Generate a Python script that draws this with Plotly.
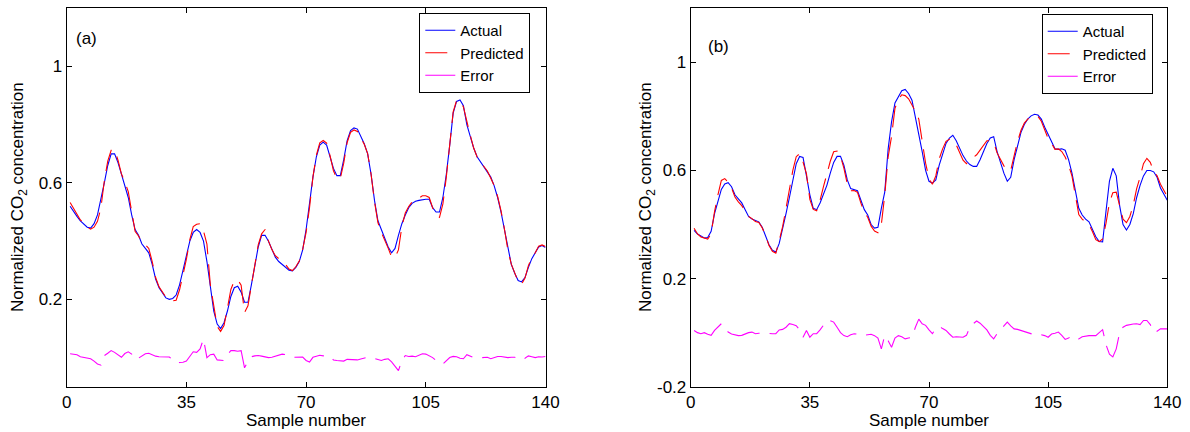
import plotly.graph_objects as go

samples = list(range(1, 141))

# ---------------- Panel (a) ----------------
actual_a = [0.52, 0.50, 0.485, 0.47, 0.46, 0.448, 0.445, 0.46, 0.49, 0.54,
            0.60, 0.66, 0.70, 0.70, 0.67, 0.63, 0.59, 0.55, 0.49, 0.44,
            0.42, 0.39, 0.375, 0.36, 0.32, 0.27, 0.24, 0.22, 0.205, 0.20,
            0.203, 0.215, 0.25, 0.30, 0.35, 0.40, 0.43, 0.44, 0.43, 0.40,
            0.33, 0.24, 0.16, 0.115, 0.10, 0.12, 0.16, 0.21, 0.24, 0.245,
            0.225, 0.19, 0.19, 0.25, 0.32, 0.38, 0.42, 0.42, 0.40, 0.37,
            0.345, 0.33, 0.32, 0.31, 0.30, 0.298, 0.31, 0.33, 0.37, 0.44,
            0.53, 0.62, 0.69, 0.73, 0.74, 0.73, 0.69, 0.65, 0.625, 0.625,
            0.68, 0.745, 0.78, 0.789, 0.785, 0.76, 0.735, 0.70, 0.63, 0.54,
            0.47, 0.44, 0.41, 0.38, 0.36, 0.375, 0.42, 0.46, 0.49, 0.515,
            0.53, 0.537, 0.54, 0.543, 0.544, 0.544, 0.515, 0.50, 0.50, 0.55,
            0.63, 0.73, 0.84, 0.88, 0.885, 0.865, 0.80, 0.76, 0.72, 0.69,
            0.672, 0.655, 0.64, 0.62, 0.59, 0.55, 0.50, 0.44, 0.37, 0.32,
            0.29, 0.265, 0.26, 0.275, 0.31, 0.34, 0.36, 0.38, 0.385, 0.378]

predicted_a = [0.533, 0.512, 0.495, 0.473, 0.461, 0.448, 0.441, 0.448, 0.468, 0.514,
               0.607, 0.675, 0.712, 0.714, 0.678, 0.631, 0.604, 0.57, 0.502, 0.434,
               0.418, 0.396, 0.388, 0.375, 0.33, 0.275, 0.243, 0.223, 0.208, 0.202,
               0.195, 0.197, 0.233, 0.284, 0.338, 0.405, 0.45, 0.458, 0.46, 0.435,
               0.39, 0.25, 0.172, 0.107, 0.09, 0.11, 0.17, 0.234, 0.264, 0.267,
               0.249, 0.155, 0.178, 0.253, 0.326, 0.387, 0.425, 0.44, 0.40, 0.371,
               0.35, 0.34, 0.332, 0.32, 0.304, 0.299, 0.312, 0.332, 0.372, 0.43,
               0.515, 0.621, 0.695, 0.738, 0.746, 0.737, 0.694, 0.642, 0.615, 0.615,
               0.668, 0.739, 0.774, 0.782, 0.777, 0.755, 0.733, 0.701, 0.63, 0.536,
               0.464, 0.43, 0.404, 0.376, 0.345, 0.345, 0.37, 0.45, 0.497, 0.519,
               0.535, 0.54, 0.548, 0.556, 0.556, 0.55, 0.515, 0.49, 0.482, 0.528,
               0.62, 0.73, 0.844, 0.883, 0.883, 0.861, 0.81, 0.764, 0.72, 0.689,
               0.672, 0.657, 0.641, 0.616, 0.591, 0.554, 0.504, 0.441, 0.37, 0.321,
               0.291, 0.261, 0.252, 0.273, 0.316, 0.343, 0.36, 0.383, 0.387, 0.382]

error_a = [0.013, 0.012, 0.010, 0.003, 0.001, 0.0, -0.004, -0.012, -0.022, -0.026,
           0.007, 0.015, 0.024, 0.018, 0.008, 0.001, 0.014, 0.020, 0.012, -0.006,
           -0.002, 0.006, 0.013, 0.015, 0.010, 0.005, 0.003, 0.003, 0.003, 0.002,
           -0.008, -0.018, -0.017, -0.016, -0.012, 0.005, 0.020, 0.018, 0.030, 0.064,
           0.0, 0.010, 0.012, -0.008, -0.010, -0.010, 0.010, 0.024, 0.024, 0.022,
           0.024, -0.035, -0.012, 0.003, 0.006, 0.007, 0.005, 0.003, 0.0, 0.001,
           0.005, 0.010, 0.012, 0.010, 0.004, 0.001, 0.002, 0.002, 0.002, -0.010,
           -0.015, 0.001, 0.005, 0.008, 0.006, 0.007, 0.004, -0.008, -0.010, -0.010,
           -0.012, -0.006, -0.006, -0.007, -0.008, -0.005, -0.002, 0.001, 0.0, -0.004,
           -0.006, -0.010, -0.006, -0.004, -0.015, -0.030, -0.045, -0.010, 0.007, 0.004,
           0.005, 0.003, 0.008, 0.013, 0.012, 0.006, 0.0, -0.010, -0.018, -0.022,
           -0.010, 0.0, 0.004, 0.003, -0.002, -0.004, 0.010, 0.004, 0.0, -0.001,
           0.0, 0.002, 0.001, -0.004, 0.001, 0.004, 0.004, 0.001, 0.0, 0.001,
           0.001, -0.004, -0.008, -0.002, 0.006, 0.003, 0.0, 0.003, 0.002, 0.004]

# ---------------- Panel (b) ----------------
actual_b = [0.378, 0.365, 0.358, 0.35, 0.352, 0.375, 0.44, 0.49, 0.53, 0.55,
            0.555, 0.54, 0.51, 0.495, 0.48, 0.455, 0.43, 0.42, 0.415, 0.41,
            0.39, 0.36, 0.325, 0.305, 0.298, 0.33, 0.38, 0.44, 0.50, 0.57,
            0.625, 0.652, 0.648, 0.58, 0.51, 0.46, 0.455, 0.48, 0.51, 0.545,
            0.59, 0.63, 0.652, 0.652, 0.62, 0.565, 0.533, 0.53, 0.525, 0.49,
            0.455, 0.435, 0.40, 0.387, 0.39, 0.46, 0.52, 0.68, 0.78, 0.85,
            0.875, 0.895, 0.90, 0.885, 0.86, 0.80, 0.74, 0.67, 0.60, 0.56,
            0.553, 0.565, 0.62, 0.665, 0.70, 0.72, 0.73, 0.71, 0.68, 0.655,
            0.635, 0.622, 0.615, 0.615, 0.64, 0.67, 0.70, 0.72, 0.725, 0.67,
            0.63, 0.59, 0.56, 0.575, 0.64, 0.695, 0.74, 0.77, 0.79, 0.802,
            0.808, 0.805, 0.79, 0.76, 0.735, 0.705, 0.68, 0.678, 0.68, 0.675,
            0.64, 0.59, 0.52, 0.46, 0.435, 0.42, 0.41, 0.385, 0.355, 0.337,
            0.336, 0.45, 0.56, 0.608, 0.58, 0.47, 0.40, 0.38, 0.40, 0.44,
            0.50, 0.545, 0.58, 0.60, 0.60, 0.595, 0.575, 0.535, 0.51, 0.49]

predicted_b = [0.386, 0.365, 0.354, 0.35, 0.346, 0.365, 0.448, 0.51, 0.563, 0.57,
               0.557, 0.535, 0.502, 0.484, 0.47, 0.45, 0.43, 0.422, 0.411, 0.408,
               0.388, 0.359, 0.322, 0.301, 0.294, 0.34, 0.392, 0.46, 0.533, 0.60,
               0.651, 0.662, 0.631, 0.588, 0.493, 0.456, 0.451, 0.49, 0.54, 0.59,
               0.634, 0.669, 0.672, 0.652, 0.609, 0.55, 0.525, 0.526, 0.519, 0.479,
               0.445, 0.427, 0.394, 0.376, 0.37, 0.40, 0.509, 0.65, 0.726, 0.83,
               0.864, 0.88, 0.877, 0.865, 0.843, 0.82, 0.79, 0.703, 0.627, 0.57,
               0.549, 0.58, 0.643, 0.68, 0.708, 0.715, 0.713, 0.695, 0.665, 0.638,
               0.625, 0.642, 0.648, 0.658, 0.675, 0.693, 0.71, 0.71, 0.705, 0.665,
               0.64, 0.617, 0.60, 0.60, 0.654, 0.707, 0.748, 0.775, 0.79, 0.798,
               0.80, 0.80, 0.782, 0.749, 0.718, 0.70, 0.678, 0.68, 0.67, 0.65,
               0.62, 0.579, 0.502, 0.437, 0.42, 0.408, 0.399, 0.374, 0.344, 0.337,
               0.347, 0.405, 0.48, 0.518, 0.52, 0.47, 0.42, 0.407, 0.43, 0.472,
               0.533, 0.575, 0.625, 0.645, 0.63, 0.597, 0.58, 0.549, 0.524, 0.504]

error_b = [0.008, 0.0, -0.004, 0.0, -0.006, -0.010, 0.008, 0.020, 0.033, 0.020,
           0.002, -0.005, -0.008, -0.011, -0.010, -0.005, 0.0, 0.002, -0.004, -0.002,
           -0.002, -0.001, -0.003, -0.004, -0.004, 0.010, 0.012, 0.020, 0.033, 0.030,
           0.026, 0.010, -0.017, 0.008, -0.017, -0.004, -0.004, 0.010, 0.030, 0.045,
           0.044, 0.039, 0.020, 0.0, -0.011, -0.015, -0.008, -0.004, -0.006, -0.011,
           -0.010, -0.008, -0.006, -0.011, -0.020, -0.060, -0.011, -0.030, -0.054, -0.020,
           -0.011, -0.015, -0.023, -0.020, -0.017, 0.020, 0.050, 0.033, 0.027, 0.010,
           -0.004, 0.015, 0.023, 0.015, 0.008, -0.005, -0.017, -0.015, -0.015, -0.017,
           -0.010, 0.020, 0.033, 0.043, 0.035, 0.023, 0.010, -0.010, -0.023, -0.004,
           0.010, 0.027, 0.039, 0.025, 0.014, 0.012, 0.008, 0.005, 0.0, -0.004,
           -0.008, -0.005, -0.008, -0.011, -0.017, -0.005, -0.002, 0.002, -0.010, -0.025,
           -0.020, -0.011, -0.018, -0.023, -0.015, -0.012, -0.011, -0.011, -0.011, 0.0,
           0.011, -0.045, -0.080, -0.090, -0.060, 0.0, 0.020, 0.027, 0.030, 0.032,
           0.033, 0.030, 0.045, 0.045, 0.030, 0.002, 0.005, 0.014, 0.014, 0.014]

x_ticks = [0, 35, 70, 105, 140]
y_ticks_a = [0.2, 0.6, 1]
y_ticks_b = [-0.2, 0.2, 0.6, 1]
series_names = ["Actual", "Predicted", "Error"]
panel_labels = ["(a)", "(b)"]
x_title = "Sample number"
y_title = "Normalized CO<sub>2</sub> concentration"

FONT = "Liberation Sans, Arial, sans-serif"
W, H = 1190, 432

fig = go.Figure()

styles = [dict(color="#0000ff", width=1.1),
          dict(color="#ff0000", width=1.1, dash="22px,10px"),
          dict(color="#ff00ff", width=1.1, dash="34px,10px")]

for panel, (xa, ya, leg, data) in enumerate([
        ("x", "y", "legend", (actual_a, predicted_a, error_a)),
        ("x2", "y2", "legend2", (actual_b, predicted_b, error_b))]):
    for name, vals, st in zip(series_names, data, styles):
        fig.add_trace(go.Scatter(x=samples, y=vals, mode="lines", name=name,
                                 line=st, xaxis=xa, yaxis=ya, legend=leg,
                                 hoverinfo="skip"))

ydom = [45.3 / H, 1 - 8.3 / H]
axis_common = dict(showline=True, linecolor="black", linewidth=1, mirror="allticks",
                   ticks="inside", ticklen=5, tickcolor="black", showgrid=False,
                   zeroline=False, automargin=False,
                   tickfont=dict(family=FONT, size=17, color="black"))

fig.update_layout(
    template="none",
    width=W, height=H,
    margin=dict(l=0, r=0, t=0, b=0),
    paper_bgcolor="white", plot_bgcolor="white",
    font=dict(family=FONT, size=17, color="black"),
    showlegend=True,
    xaxis=dict(domain=[66.7 / W, 545.5 / W], range=[0, 140], tickvals=x_ticks,
               anchor="y", **axis_common),
    yaxis=dict(domain=ydom, range=[-0.1, 1.2], tickvals=y_ticks_a,
               ticktext=[str(v) for v in y_ticks_a], anchor="x", **axis_common),
    xaxis2=dict(domain=[690.7 / W, 1167.3 / W], range=[0, 140], tickvals=x_ticks,
                anchor="y2", **axis_common),
    yaxis2=dict(domain=ydom, range=[-0.2, 1.2], tickvals=y_ticks_b,
                ticktext=[str(v) for v in y_ticks_b], anchor="x2", **axis_common),
    legend=dict(x=419.3 / W, y=1 - 13 / H, xanchor="left", yanchor="top",
                bordercolor="black", borderwidth=1, bgcolor="white",
                font=dict(family=FONT, size=15), itemwidth=30, tracegroupgap=0),
    legend2=dict(x=1041.7 / W, y=1 - 14 / H, xanchor="left", yanchor="top",
                 bordercolor="black", borderwidth=1, bgcolor="white",
                 font=dict(family=FONT, size=15), itemwidth=30, tracegroupgap=0),
)

# axis titles as annotations for exact placement
for xc, ycenter in [(18.5, 197.5), (646.5, 197.5)]:
    fig.add_annotation(text=y_title, xref="paper", yref="paper",
                       x=xc / W, y=1 - ycenter / H, xanchor="center", yanchor="middle",
                       textangle=-90, showarrow=False, font=dict(family=FONT, size=17))
for xc in [(66.7 + 545.5) / 2, (690.7 + 1167.3) / 2]:
    fig.add_annotation(text=x_title, xref="paper", yref="paper",
                       x=xc / W, y=11.5 / H, xanchor="center", yanchor="middle",
                       showarrow=False, font=dict(family=FONT, size=17))

fig.add_annotation(text=panel_labels[0], xref="x domain", yref="y domain",
                   x=0.016, y=1 - (38 - 8.3) / (432 - 45.3 - 8.3), xanchor="left",
                   yanchor="middle", showarrow=False, font=dict(family=FONT, size=17))
fig.add_annotation(text=panel_labels[1], xref="x2 domain", yref="y2 domain",
                   x=0.032, y=1 - (46 - 8.3) / (432 - 45.3 - 8.3), xanchor="left",
                   yanchor="middle", showarrow=False, font=dict(family=FONT, size=17))

fig.write_html("out.html", config={"displayModeBar": False},
               post_script="document.body.style.margin='0';document.body.style.padding='0';")
